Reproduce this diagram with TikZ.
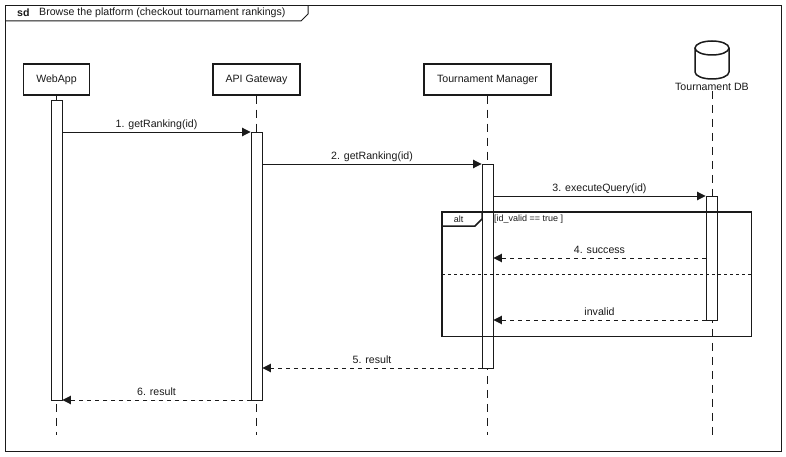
\documentclass[tikz,border=0pt]{standalone}
\usepackage{fontspec}
\setmainfont{Liberation Sans}
\usetikzlibrary{arrows.meta}
\definecolor{inkline}{HTML}{1A1A1A}
\tikzset{
    every node/.style={font=\fontsize{10.6}{12}\selectfont, text=inkline},
    headbox/.style={draw=inkline, line width=1.5pt, fill=white, minimum height=31pt, inner sep=0pt},
    activebar/.style={draw=inkline, line width=0.9pt, fill=white, minimum width=11pt, inner sep=0pt},
    lifeline/.style={draw=inkline, line width=0.9pt, dash pattern=on 8pt off 6pt},
    callmsg/.style={draw=inkline, line width=0.9pt, -{Triangle[length=8.5pt,width=8.5pt]}},
    backmsg/.style={callmsg, dash pattern=on 4pt off 4pt},
    msglabel/.style={above=1pt, inner sep=1pt, text height=8pt, text depth=2.5pt},
    smalltext/.style={font=\fontsize{9}{10}\selectfont, inner sep=0pt}
}
\begin{document}
\begin{tikzpicture}[x=1pt, y=-1pt]
    \useasboundingbox (0,0) rectangle (786,457);
    \fill[white] (0,0) rectangle (786,457);

    % Outer frame
    \draw[inkline, line width=1pt] (5.5,5.5) rectangle (781,451);
    \draw[inkline, line width=1pt] (5.5,21) -- (301,21) -- (308,14) -- (308,5.5);
    \node[anchor=west, inner sep=0pt, font=\fontsize{10.6}{12}\selectfont\bfseries] (sdTag) at (17,12.5) {sd};
    \node[anchor=west, inner sep=0pt] (sdTitle) at (39,12.5) {Browse the platform (checkout tournament rankings)};

    % Heads
    \node[headbox, minimum width=66pt] (webHead) at (56.5,79.5) {WebApp};
    \node[headbox, minimum width=87pt] (apiHead) at (256.5,79.5) {API Gateway};
    \node[headbox, minimum width=127pt] (mgrHead) at (487.5,79.5) {Tournament Manager};
    \node[inner sep=0pt] (dbLabel) at (712,87) {Tournament DB};

    % Database drum
    \draw[inkline, line width=1.5pt, fill=white] (695,48) -- (695,72) arc (180:360:17pt and 7pt) -- (729,48);
    \draw[inkline, line width=1.5pt, fill=white] (712,48) ellipse (17pt and 7pt);

    % Lifelines
    \foreach \name/\start/\x in {web/webHead/56.5, api/apiHead/256.5, mgr/mgrHead/487.5, db/dbLabel/712} {
        \coordinate (\name End) at (\x,435);
        \draw[lifeline] (\start.south) -- (\name End);
    }

    % Activation bars
    \foreach \name/\x/\top/\bottom in {web/56.5/100/400, api/256.5/132/400, mgr/487.5/164/368, db/711.5/196/320} {
        \pgfmathsetmacro{\barh}{\bottom-\top}
        \pgfmathsetmacro{\barm}{(\bottom+\top)/2}
        \node[activebar, minimum height=\barh pt] (\name Bar) at (\x,\barm) {};
    }

    % Messages
    \foreach \from/\to/\y/\style/\name/\txt in {
        webBar.east/apiBar.west/132/callmsg/msgOne/1. getRanking(id),
        apiBar.east/mgrBar.west/164/callmsg/msgTwo/2. getRanking(id),
        mgrBar.east/dbBar.west/196/callmsg/msgThree/3. executeQuery(id),
        dbBar.west/mgrBar.east/258/backmsg/msgFour/4. success,
        dbBar.west/mgrBar.east/320/backmsg/msgInvalid/invalid,
        mgrBar.west/apiBar.east/368/backmsg/msgFive/5. result,
        apiBar.west/webBar.east/400/backmsg/msgSix/6. result} {
        \draw[\style] (\from |- 0,\y) -- node[msglabel] (\name) {\txt} (\to |- 0,\y);
    }

    % Alt fragment
    \draw[inkline, line width=1.5pt] (442,212) rectangle (751.5,336.5);
    \draw[inkline, line width=1.5pt] (442,226) -- (475,226) -- (482,219) -- (482,212);
    \draw[inkline, line width=1.5pt, dash pattern=on 3pt off 3pt] (442,274.5) -- (751.5,274.5);
    \node[smalltext] (altTag) at (458.5,219) {alt};
    \node[smalltext, anchor=west] (altGuard) at (494,219) {[id\_valid == true ]};
\end{tikzpicture}
\end{document}
